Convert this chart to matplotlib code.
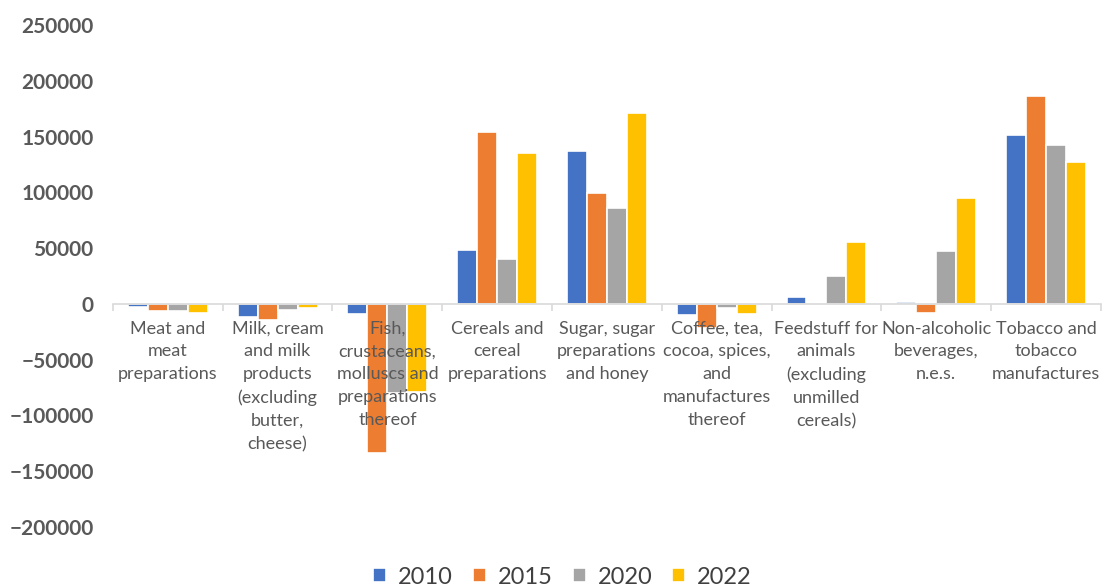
import numpy as np
import matplotlib.pyplot as plt

categories = [
    "Meat and\nmeat\npreparations",
    "Milk, cream\nand milk\nproducts\n(excluding\nbutter,\ncheese)",
    "Fish,\ncrustaceans,\nmolluscs and\npreparations\nthereof",
    "Cereals and\ncereal\npreparations",
    "Sugar, sugar\npreparations\nand honey",
    "Coffee, tea,\ncocoa, spices,\nand\nmanufactures\nthereof",
    "Feedstuff for\nanimals\n(excluding\nunmilled\ncereals)",
    "Non-alcoholic\nbeverages,\nn.e.s.",
    "Tobacco and\ntobacco\nmanufactures",
]
years = ["2010", "2015", "2020", "2022"]
v2010 = [-2500, -12000, -8800, 48200, 137500, -10000, 6000, 2000, 151500]
v2015 = [-6500, -14500, -133700, 154500, 99700, -21300, 0, -8500, 186600]
v2020 = [-6000, -5000, -80300, 40200, 86000, -3800, 24700, 47600, 142600]
v2022 = [-8500, -4000, -78800, 135100, 171700, -8800, 55300, 94600, 127700]
colors = ["#4472C4", "#ED7D31", "#A5A5A5", "#FFC000"]

plt.rcParams["font.family"] = ["Lato", "DejaVu Sans"]

fig, ax = plt.subplots(figsize=(11.02, 5.88), dpi=100)
fig.subplots_adjust(left=0.1025, right=0.999, top=0.957, bottom=0.104)

x = np.arange(len(categories))
w = 0.182
for i, (vals, yr) in enumerate(zip([v2010, v2015, v2020, v2022], years)):
    ax.bar(x + (i - 1.5) * w, vals, w, color=colors[i], edgecolor="white",
           linewidth=1.2, label=yr, zorder=1)

ax.set_xlim(-0.5, len(categories) - 0.5)
ax.set_ylim(-200000, 250000)
ax.set_yticks(np.arange(-200000, 250001, 50000))
ax.tick_params(axis="y", length=0, labelsize=15, labelcolor="#595959", pad=14)
for t in ax.get_yticklabels():
    t.set_fontweight("bold")

# category axis sits on the zero line, separators as major ticks
for s in ["top", "right", "left"]:
    ax.spines[s].set_visible(False)
ax.spines["bottom"].set_position(("data", 0))
ax.spines["bottom"].set_color("#D9D9D9")
ax.spines["bottom"].set_linewidth(1.2)
ax.set_xticks(np.arange(-0.5, len(categories)), labels=[])
ax.set_xticks(x, labels=categories, minor=True)
ax.tick_params(axis="x", which="major", length=5, color="#D9D9D9", width=1.2)
ax.tick_params(axis="x", which="minor", length=0, pad=12, labelsize=13,
               labelcolor="#595959")
for t in ax.get_xticklabels(minor=True):
    t.set_verticalalignment("top")
    t.set_linespacing(1.53)

ax.legend(loc="center", bbox_to_anchor=(0.455, -0.1), ncol=4, frameon=False,
          fontsize=17, handlelength=0.55, handleheight=0.55, handletextpad=0.5,
          columnspacing=0.85, labelcolor="#404040")

fig.savefig("out.png", dpi=100)
